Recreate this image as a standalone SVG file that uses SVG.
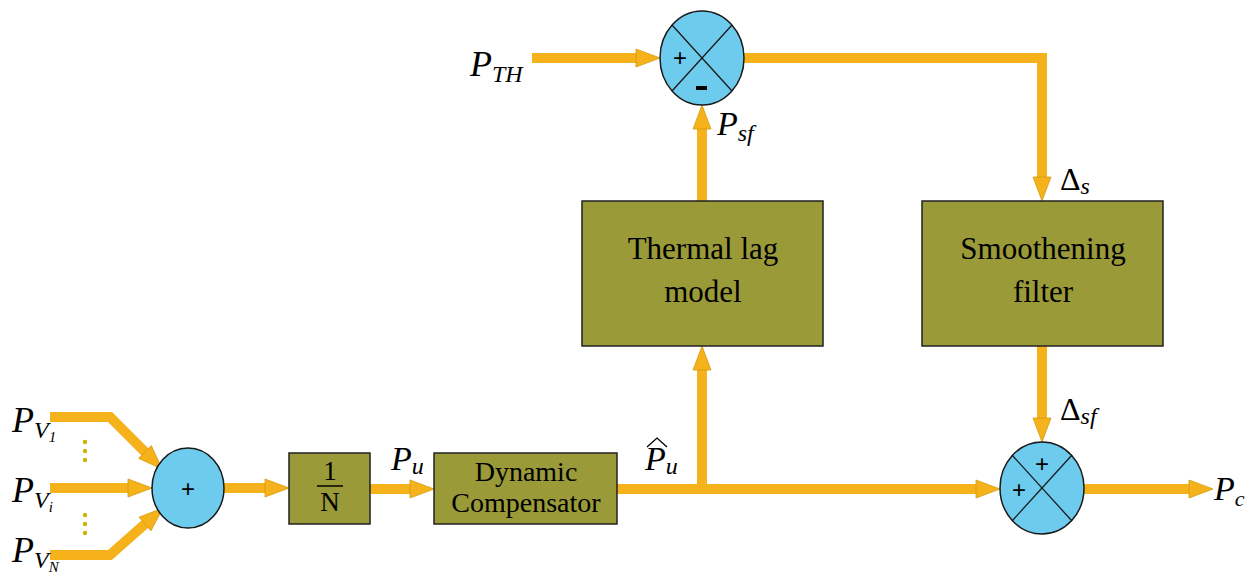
<svg xmlns="http://www.w3.org/2000/svg" width="1248" height="574" viewBox="0 0 1248 574">
<style>
.conn{fill:none;stroke:#F5B21A;stroke-width:10;stroke-linejoin:miter}
.box{fill:#9A9A38;stroke:#222;stroke-width:1.5}
.sum{fill:#6DCBEE;stroke:#1a1a1a;stroke-width:1.5}
.x{stroke:#1a1a1a;stroke-width:1.3}
.bt{font-family:"Liberation Serif","Times New Roman","DejaVu Serif",serif;fill:#000;text-anchor:middle}
.lab{font-family:"Liberation Serif","Times New Roman","DejaVu Serif",serif;font-style:italic;fill:#000}
.up{font-style:normal}
.sg{font-family:"Liberation Sans",sans-serif;fill:#000;text-anchor:middle}
.dot{fill:#C9B400}
</style>
<defs>
<marker id="ah" markerUnits="userSpaceOnUse" markerWidth="26" markerHeight="20" refX="0" refY="9" orient="auto" overflow="visible">
<path d="M0,0 L24,9 L0,18 z" fill="#F5B21A" stroke="#D49A10" stroke-width="0.8"/>
</marker>
</defs>
<rect width="1248" height="574" fill="#fff"/>

<g id="connectors">
<polyline class="conn" points="50,417 110,417 145,452" marker-end="url(#ah)"/>
<line class="conn" x1="50" y1="488" x2="128" y2="488" marker-end="url(#ah)"/>
<polyline class="conn" points="50,555 110,555 145,524" marker-end="url(#ah)"/>
<line class="conn" x1="224" y1="488" x2="265" y2="488" marker-end="url(#ah)"/>
<line class="conn" x1="370" y1="489" x2="410" y2="489" marker-end="url(#ah)"/>
<line class="conn" x1="617" y1="489" x2="976" y2="489" marker-end="url(#ah)"/>
<line class="conn" x1="702" y1="489" x2="702" y2="370" marker-end="url(#ah)"/>
<line class="conn" x1="702" y1="201" x2="702" y2="129" marker-end="url(#ah)"/>
<line class="conn" x1="532" y1="58" x2="636" y2="58" marker-end="url(#ah)"/>
<polyline class="conn" points="744,58 1042,58 1042,177" marker-end="url(#ah)"/>
<line class="conn" x1="1042" y1="346" x2="1042" y2="418" marker-end="url(#ah)"/>
<line class="conn" x1="1084" y1="489" x2="1189" y2="489" marker-end="url(#ah)"/>
</g>

<g id="dots">
<circle class="dot" cx="85" cy="442" r="2.2"/><circle class="dot" cx="85" cy="451" r="2.2"/><circle class="dot" cx="85" cy="460" r="2.2"/>
<circle class="dot" cx="85" cy="515" r="2.2"/><circle class="dot" cx="85" cy="524" r="2.2"/><circle class="dot" cx="85" cy="533" r="2.2"/>
</g>

<g id="sum1">
<ellipse class="sum" cx="188" cy="488" rx="36" ry="40"/>
<text class="sg" x="188" y="497" font-size="24">+</text>
</g>

<g id="inv_n">
<rect class="box" x="289" y="453" width="81" height="71"/>
<text class="bt" x="330" y="480" font-size="27">1</text>
<line x1="317" y1="486" x2="343" y2="486" stroke="#000" stroke-width="1.5"/>
<text class="bt" x="330" y="511" font-size="27">N</text>
</g>

<g id="dyncomp">
<rect class="box" x="434" y="453" width="183" height="71"/>
<text class="bt" x="526" y="481" font-size="28">Dynamic</text>
<text class="bt" x="526" y="512" font-size="28">Compensator</text>
</g>

<g id="thermal">
<rect class="box" x="582" y="201" width="241" height="145"/>
<text class="bt" x="703" y="259" font-size="31">Thermal lag</text>
<text class="bt" x="703" y="302" font-size="31">model</text>
</g>

<g id="smooth">
<rect class="box" x="922" y="201" width="241" height="145"/>
<text class="bt" x="1043" y="259" font-size="31">Smoothening</text>
<text class="bt" x="1043" y="302" font-size="31">filter</text>
</g>

<g id="sum_top">
<ellipse class="sum" cx="702" cy="58" rx="42" ry="47"/>
<line class="x" x1="672" y1="25" x2="732" y2="91"/>
<line class="x" x1="732" y1="25" x2="672" y2="91"/>
<text class="sg" x="680" y="66" font-size="24">+</text>
<rect x="696" y="86" width="11" height="4" fill="#000"/>
</g>

<g id="sum_out">
<ellipse class="sum" cx="1042" cy="488" rx="42" ry="46"/>
<line class="x" x1="1012" y1="455" x2="1072" y2="521"/>
<line class="x" x1="1072" y1="455" x2="1012" y2="521"/>
<text class="sg" x="1042" y="472" font-size="24">+</text>
<text class="sg" x="1019" y="498" font-size="24">+</text>
</g>

<g id="labels">
<text class="lab" x="12" y="432" font-size="36">P<tspan font-size="24" dy="6">V</tspan><tspan font-size="15" dy="4">1</tspan></text>
<text class="lab" x="12" y="502" font-size="36">P<tspan font-size="24" dy="6">V</tspan><tspan font-size="15" dy="4">i</tspan></text>
<text class="lab" x="12" y="562" font-size="36">P<tspan font-size="24" dy="6">V</tspan><tspan font-size="15" dy="4">N</tspan></text>
<text class="lab" x="470" y="76" font-size="36">P<tspan font-size="24" dy="6">TH</tspan></text>
<text class="lab" x="717" y="135" font-size="34">P<tspan font-size="24" dy="6">sf</tspan></text>
<text class="lab" x="1060" y="190" font-size="32"><tspan class="up">Δ</tspan><tspan font-size="24" dy="4">s</tspan></text>
<text class="lab" x="1060" y="420" font-size="32"><tspan class="up">Δ</tspan><tspan font-size="24" dy="4">sf</tspan></text>
<text class="lab" x="1214" y="500" font-size="34">P<tspan font-size="22" dy="6">c</tspan></text>
<text class="lab" x="391" y="470" font-size="34">P<tspan font-size="24" dy="4">u</tspan></text>
<text class="lab" x="645" y="470" font-size="34">P<tspan font-size="24" dy="4">u</tspan></text>
<path d="M647,447 L657,438 L667,447" fill="none" stroke="#000" stroke-width="1.3"/>
</g>
</svg>
